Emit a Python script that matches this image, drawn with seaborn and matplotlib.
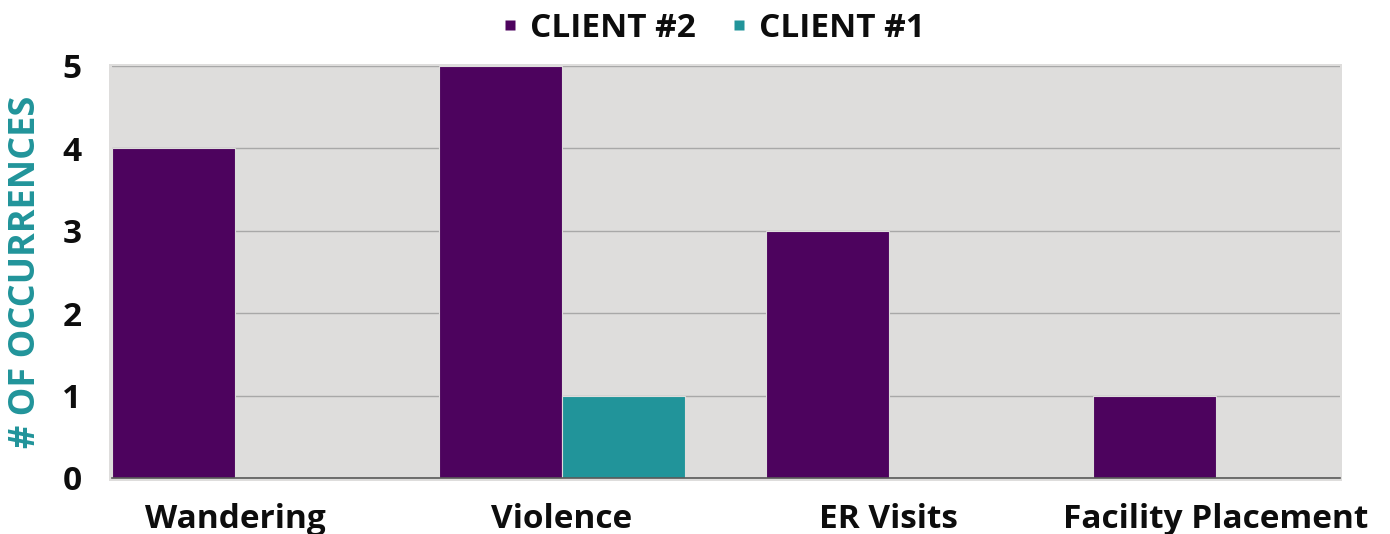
import matplotlib
matplotlib.use("Agg")
import matplotlib.pyplot as plt
import seaborn as sns
import pandas as pd
from matplotlib.patches import Rectangle
from matplotlib.lines import Line2D

categories = ["Wandering", "Violence", "ER Visits", "Facility Placement"]
client2 = [4, 5, 3, 1]
client1 = [0, 1, 0, 0]
series_names = ["CLIENT #2", "CLIENT #1"]
y_ticks = [0, 1, 2, 3, 4, 5]

df = pd.DataFrame({
    "category": categories * 2,
    "value": client2 + client1,
    "series": [series_names[0]] * len(categories) + [series_names[1]] * len(categories),
})

sns.set_theme(style="white")
plt.rcParams["font.family"] = ["Open Sans", "DejaVu Sans"]

PURPLE = "#4D035E"
TEAL = "#21949A"
BG = "#DEDDDC"
FS = 24
palette = [PURPLE, TEAL]

fig = plt.figure(figsize=(13.9, 5.34), dpi=100)
ax = fig.add_axes([112 / 1390, 1 - 478 / 534, (1340 - 112) / 1390, (478 - 66) / 534])

# background panel slightly larger than the axes
fig.patches.append(Rectangle((109 / 1390, 1 - 481 / 534), (1342 - 109) / 1390, (481 - 64) / 534,
                             transform=fig.transFigure, facecolor=BG, edgecolor="none", zorder=-5))
ax.set_facecolor(BG)

sns.barplot(data=df, x="category", y="value", hue="series", hue_order=series_names,
            palette=palette, width=0.752, saturation=1, ax=ax, legend=False,
            edgecolor=BG, linewidth=0.8)

ax.set_xlim(-0.376, 3.38)
ax.set_ylim(0, 5)
ax.set_yticks(y_ticks)
ax.set_axisbelow(True)
ax.yaxis.grid(True, color="#A8A8A8", linewidth=1.0)
ax.xaxis.grid(False)
for s in ["top", "right", "left"]:
    ax.spines[s].set_visible(False)
ax.spines["bottom"].set_color("#595959")
ax.spines["bottom"].set_linewidth(1.2)

ax.tick_params(axis="both", length=0)
ax.tick_params(axis="x", pad=18)
ax.tick_params(axis="y", pad=22)
for lab in ax.get_xticklabels() + ax.get_yticklabels():
    lab.set_fontsize(FS)
    lab.set_fontweight("bold")
    lab.set_color("#0D0D0D")

ax.set_xlabel("")
ax.set_ylabel("# OF OCCURRENCES", fontsize=26, fontweight="bold", color=TEAL)
ax.yaxis.set_label_coords(-0.055, 0.5)

handles = [Line2D([], [], linestyle="none", marker="s", markersize=6.5,
                  markerfacecolor=c, markeredgecolor="none") for c in palette]
ax.legend(handles, series_names, loc="lower center", bbox_to_anchor=(0.49, 1.015), ncol=2,
          frameon=False, prop={"size": FS, "weight": "bold"}, handlelength=0.4,
          handletextpad=0.4, columnspacing=1.1, borderaxespad=0.05, labelcolor="#0D0D0D")

fig.savefig("out.png", dpi=100)
